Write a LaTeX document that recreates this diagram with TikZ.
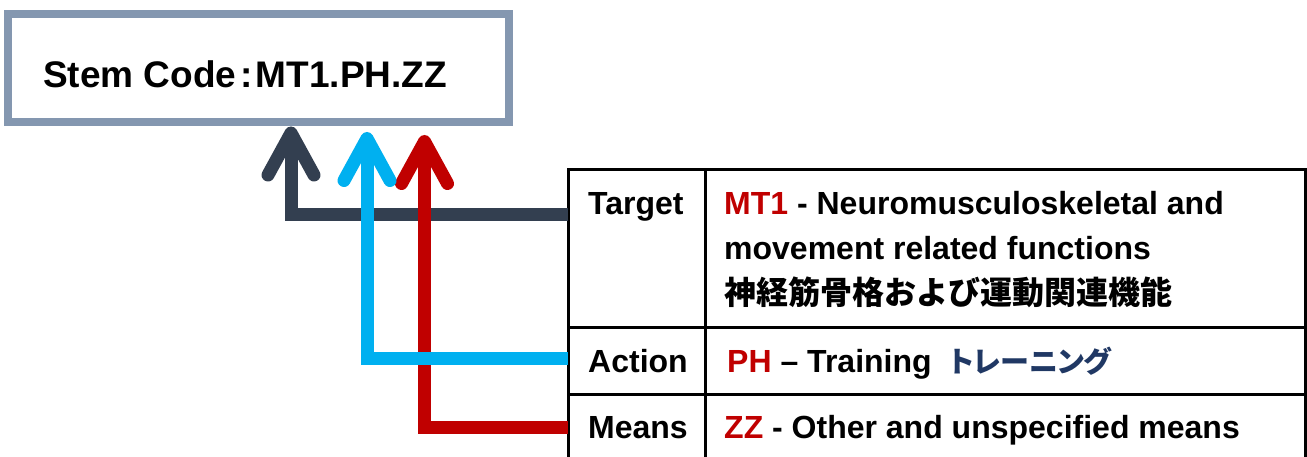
\documentclass[tikz,border=0pt]{standalone}
\usepackage{fontspec}
\setmainfont{Liberation Sans}
\newfontfamily\jp{Noto Sans CJK JP}
\newfontfamily\jpk{Noto Sans CJK JP}[RawFeature=+palt]
\usetikzlibrary{arrows.meta}
\definecolor{stemgray}{HTML}{8497B0}
\definecolor{arrdark}{HTML}{333F50}
\definecolor{arrblue}{HTML}{00B0F0}
\definecolor{arrred}{HTML}{C00000}
\definecolor{jpblue}{HTML}{203864}
\begin{document}
\begin{tikzpicture}[x=1pt,y=-1pt,
  cell/.style={draw=black,line width=3pt,rectangle,inner sep=0pt,outer sep=0pt,anchor=north west},
  txt/.style={anchor=base west,inner sep=0pt,font=\fontsize{32}{38}\selectfont\bfseries},
  conn/.style={line width=13pt,-{Straight Barb[round,length=42pt,width=46pt]}},
]
\clip (0,0) rectangle (1307,457);
\fill[white] (0,0) rectangle (1307,457);
\node[draw=stemgray,line width=8pt,minimum width=501pt,minimum height=108.5pt,inner sep=0pt] (stem) at (258,68.25) {};
\node[anchor=base west,inner sep=0pt,font=\fontsize{37}{44}\selectfont\bfseries] (stemtxt) at (43,88) {Stem Code\hspace{4pt}:\hspace{3pt}MT1.PH.ZZ};
% table cells
\node[cell,minimum width=137pt,minimum height=157pt] (tlab) at (568,170) {};
\node[cell,minimum width=600pt,minimum height=157pt] (tcon) at (705,170) {};
\node[cell,minimum width=137pt,minimum height=67pt] (alab) at (568,327) {};
\node[cell,minimum width=600pt,minimum height=67pt] (acon) at (705,327) {};
\node[cell,minimum width=137pt,minimum height=80pt] (mlab) at (568,394) {};
\node[cell,minimum width=600pt,minimum height=80pt] (mcon) at (705,394) {};
% texts
\node[txt] (t1) at (588,215) {Target};
\node[txt] (t2) at (724,215) {\textcolor{arrred}{MT1} - Neuromusculoskeletal and};
\node[txt] (t3) at (724,260) {movement related functions};
\node[txt] (t4) at (724,305) {\jp 神経筋骨格および運動関連機能};
\node[txt] (a1) at (588,372) {Action};
\node[txt] (a2) at (727,372) {\textcolor{arrred}{PH} – Training\hspace{18pt}\textcolor{jpblue}{\jpk\bfseries\fontsize{29}{35}\selectfont トレーニング}};
\node[txt] (m1) at (588,438) {Means};
\node[txt] (m2) at (724,438) {\textcolor{arrred}{ZZ} - Other and unspecified means};
% connectors
\coordinate (bluetip) at (367,132);
\coordinate (redtip) at (424.5,135);
\draw[conn,arrdark] (tlab.west |- 0,214.5) -- (291,214.5) -- (291,0 |- stem.south);
\draw[conn,arrred] (mlab.west |- 0,427) -- (424.5,427) -- (redtip);
\draw[conn,arrblue] (alab.west |- 0,358.5) -- (367,358.5) -- (bluetip);
\end{tikzpicture}
\end{document}
